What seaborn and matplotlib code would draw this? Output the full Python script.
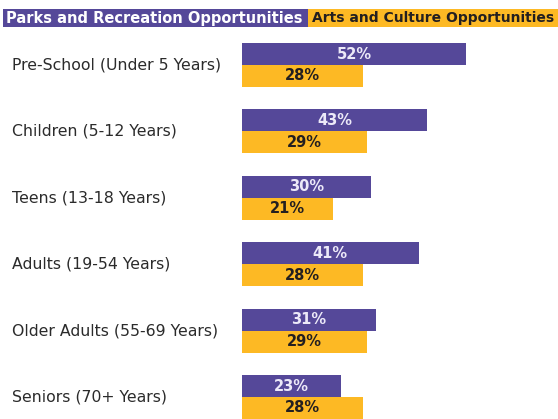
import matplotlib
matplotlib.use("Agg")
import matplotlib.pyplot as plt
import matplotlib.transforms as mtransforms
from matplotlib.patches import Rectangle
import pandas as pd
import seaborn as sns

# Age groups and the share of respondents wanting more of each opportunity type
age_groups = [
    "Pre-School (Under 5 Years)",
    "Children (5-12 Years)",
    "Teens (13-18 Years)",
    "Adults (19-54 Years)",
    "Older Adults (55-69 Years)",
    "Seniors (70+ Years)",
]
parks_pct = [52, 43, 30, 41, 31, 23]
arts_pct = [28, 29, 21, 28, 29, 28]
series_names = ["Parks and Recreation Opportunities", "Arts and Culture Opportunities"]

PURPLE = "#554899"
GOLD = "#FDB924"
DARK = "#231F20"
LIGHT = "#ECE9F8"

df = pd.DataFrame({
    "group": age_groups * 2,
    "pct": parks_pct + arts_pct,
    "series": [series_names[0]] * len(age_groups) + [series_names[1]] * len(age_groups),
})

sns.set_theme(style="white")
plt.rcParams["font.family"] = ["DejaVu Sans"]

W, H = 558, 419
fig = plt.figure(figsize=(W / 100, H / 100), dpi=100)

# plot area: bars start at x=242 px and run to the right edge
left_px = 242
ax = fig.add_axes([left_px / W, 0, (W - left_px) / W, 1])

sns.barplot(
    data=df, y="group", x="pct", hue="series", orient="h",
    palette=[PURPLE, GOLD], width=0.66, dodge=True, gap=0,
    saturation=1, legend=False, ax=ax, linewidth=0,
)

px_per_pct = 4.31
ax.set_xlim(0, (W - left_px) / px_per_pct)
row_px = 66.4
first_px = 65
ax.set_ylim((H - first_px) / row_px, -first_px / row_px)
ax.set_axis_off()

# value labels centred on each bar
for container, color, weight in zip(ax.containers, [LIGHT, DARK], ["semibold", "bold"]):
    ax.bar_label(container, labels=[f"{v:.0f}%" for v in container.datavalues],
                 label_type="center", color=color, fontsize=10.5, fontweight=weight)

# category labels, left aligned near the figure edge
trans = mtransforms.blended_transform_factory(fig.transFigure, ax.transData)
for i, name in enumerate(age_groups):
    ax.text(12 / W, i, name, transform=trans, ha="left", va="center",
            fontsize=11.3, color="#2b2b2b", clip_on=False)

# legend as two coloured blocks across the top
y0 = 1 - 27 / H
hgt = 18 / H
fig.patches.append(Rectangle((3 / W, y0), (308 - 3) / W, hgt, transform=fig.transFigure,
                             facecolor=PURPLE, edgecolor="none"))
fig.patches.append(Rectangle((308 / W, y0), (W - 308) / W, hgt, transform=fig.transFigure,
                             facecolor=GOLD, edgecolor="none"))
fig.text(6 / W, y0 + hgt / 2, series_names[0], color="white", fontsize=10.5,
         fontweight="bold", ha="left", va="center")
fig.text(312 / W, y0 + hgt / 2, series_names[1], color=DARK, fontsize=10,
         fontweight="bold", ha="left", va="center")

fig.savefig("out.png", dpi=100, facecolor="white")
